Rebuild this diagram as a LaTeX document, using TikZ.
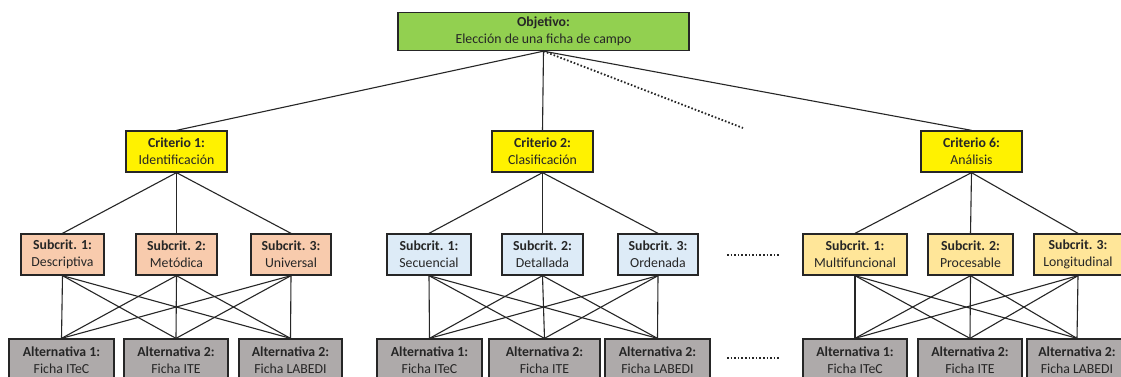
\documentclass[tikz,border=0pt]{standalone}
\usepackage{fontspec}
\setmainfont{Carlito}
\begin{document}
\begin{tikzpicture}[x=1pt,y=-1pt,
  box/.style={draw=black!85,line width=1.3pt,inner sep=0pt,align=center,
    font=\fontsize{13.8}{16.8}\selectfont,text=black!85},
  obj/.style={box,fill=objgreen,minimum width=291pt,minimum height=38pt},
  crit/.style={box,fill=yellow,minimum width=101pt,minimum height=41pt},
  subA/.style={box,fill=subpeach,minimum height=41pt},
  subB/.style={box,fill=subblue,minimum height=41pt},
  subC/.style={box,fill=subyellow,minimum height=41pt},
  alt/.style={box,fill=altgray,minimum height=42pt},
  link/.style={draw=black!85,line width=1.1pt},
  dots/.style={draw=black!85,line width=1.8pt,dash pattern=on 1.6pt off 2pt}]
\definecolor{objgreen}{RGB}{146,208,80}
\definecolor{subpeach}{RGB}{248,203,173}
\definecolor{subblue}{RGB}{221,235,247}
\definecolor{subyellow}{RGB}{255,230,153}
\definecolor{altgray}{RGB}{174,170,170}
\clip (0,0) rectangle (1121,376);
\useasboundingbox (0,0) rectangle (1121,376);
\fill[white] (0,0) rectangle (1121,376);

\node[obj] (obj) at (543.5,31.5) {\textbf{Objetivo:}\\Elección de una ficha de campo};

\node[crit] (c1) at (176.5,151.5) {\textbf{Criterio 1:}\\Identificación};
\node[crit] (c2) at (542.5,151.5) {\textbf{Criterio 2:}\\Clasificación};
\node[crit] (c6) at (971.5,151.5) {\textbf{Criterio 6:}\\Análisis};
\coordinate (dotend) at (743,128);

\node[subA,minimum width=83pt] (s11) at (62.5,254.5) {\textbf{Subcrit. 1:}\\Descriptiva};
\node[subA,minimum width=81pt] (s12) at (176.5,254.5) {\textbf{Subcrit. 2:}\\Metódica};
\node[subA,minimum width=80pt] (s13) at (291,254.5) {\textbf{Subcrit. 3:}\\Universal};

\node[subB,minimum width=84pt] (s21) at (429,254.5) {\textbf{Subcrit. 1:}\\Secuencial};
\node[subB,minimum width=81pt] (s22) at (542.5,254.5) {\textbf{Subcrit. 2:}\\Detallada};
\node[subB,minimum width=80pt] (s23) at (658,254.5) {\textbf{Subcrit. 3:}\\Ordenada};

\node[subC,minimum width=104pt] (s31) at (855,254.5) {\textbf{Subcrit. 1:}\\Multifuncional};
\node[subC,minimum width=85pt] (s32) at (970.5,254.5) {\textbf{Subcrit. 2:}\\Procesable};
\node[subC,minimum width=88pt] (s33) at (1078,254.5) {\textbf{Subcrit. 3:}\\Longitudinal};

\node[alt,minimum width=105pt] (a11) at (61.5,360) {\textbf{Alternativa 1:}\\Ficha ITeC};
\node[alt,minimum width=104pt] (a12) at (176,360) {\textbf{Alternativa 2:}\\Ficha ITE};
\node[alt,minimum width=103pt] (a13) at (290.5,360) {\textbf{Alternativa 2:}\\Ficha LABEDI};

\node[alt,minimum width=105pt] (a21) at (429.5,360) {\textbf{Alternativa 1:}\\Ficha ITeC};
\node[alt,minimum width=111pt] (a22) at (544.5,360) {\textbf{Alternativa 2:}\\Ficha ITE};
\node[alt,minimum width=105pt] (a23) at (657.5,360) {\textbf{Alternativa 2:}\\Ficha LABEDI};

\node[alt,minimum width=104pt] (a31) at (855,360) {\textbf{Alternativa 1:}\\Ficha ITeC};
\node[alt,minimum width=104pt] (a32) at (970,360) {\textbf{Alternativa 2:}\\Ficha ITE};
\node[alt,minimum width=100pt] (a33) at (1077,360) {\textbf{Alternativa 2:}\\Ficha LABEDI};

\coordinate (d1a) at (727,255);
\coordinate (d1b) at (779,255);
\coordinate (d2a) at (727,358);
\coordinate (d2b) at (779,358);

\draw[link] (obj.south) -- (c1.north);
\draw[link] (obj.south) -- (c2.north);
\draw[link] (obj.south) -- (c6.north);
\draw[dots] (obj.south) -- (dotend);
\foreach \g/\c in {1/c1,2/c2,3/c6}{
  \foreach \s in {1,2,3}{
    \draw[link] (\c.south) -- (s\g\s.north);
    \foreach \a in {1,2,3}{
      \draw[link] (s\g\s.south) -- (a\g\a.north);
    }
  }
}
\draw[dots] (d1a) -- (d1b);
\draw[dots] (d2a) -- (d2b);
\end{tikzpicture}
\end{document}
